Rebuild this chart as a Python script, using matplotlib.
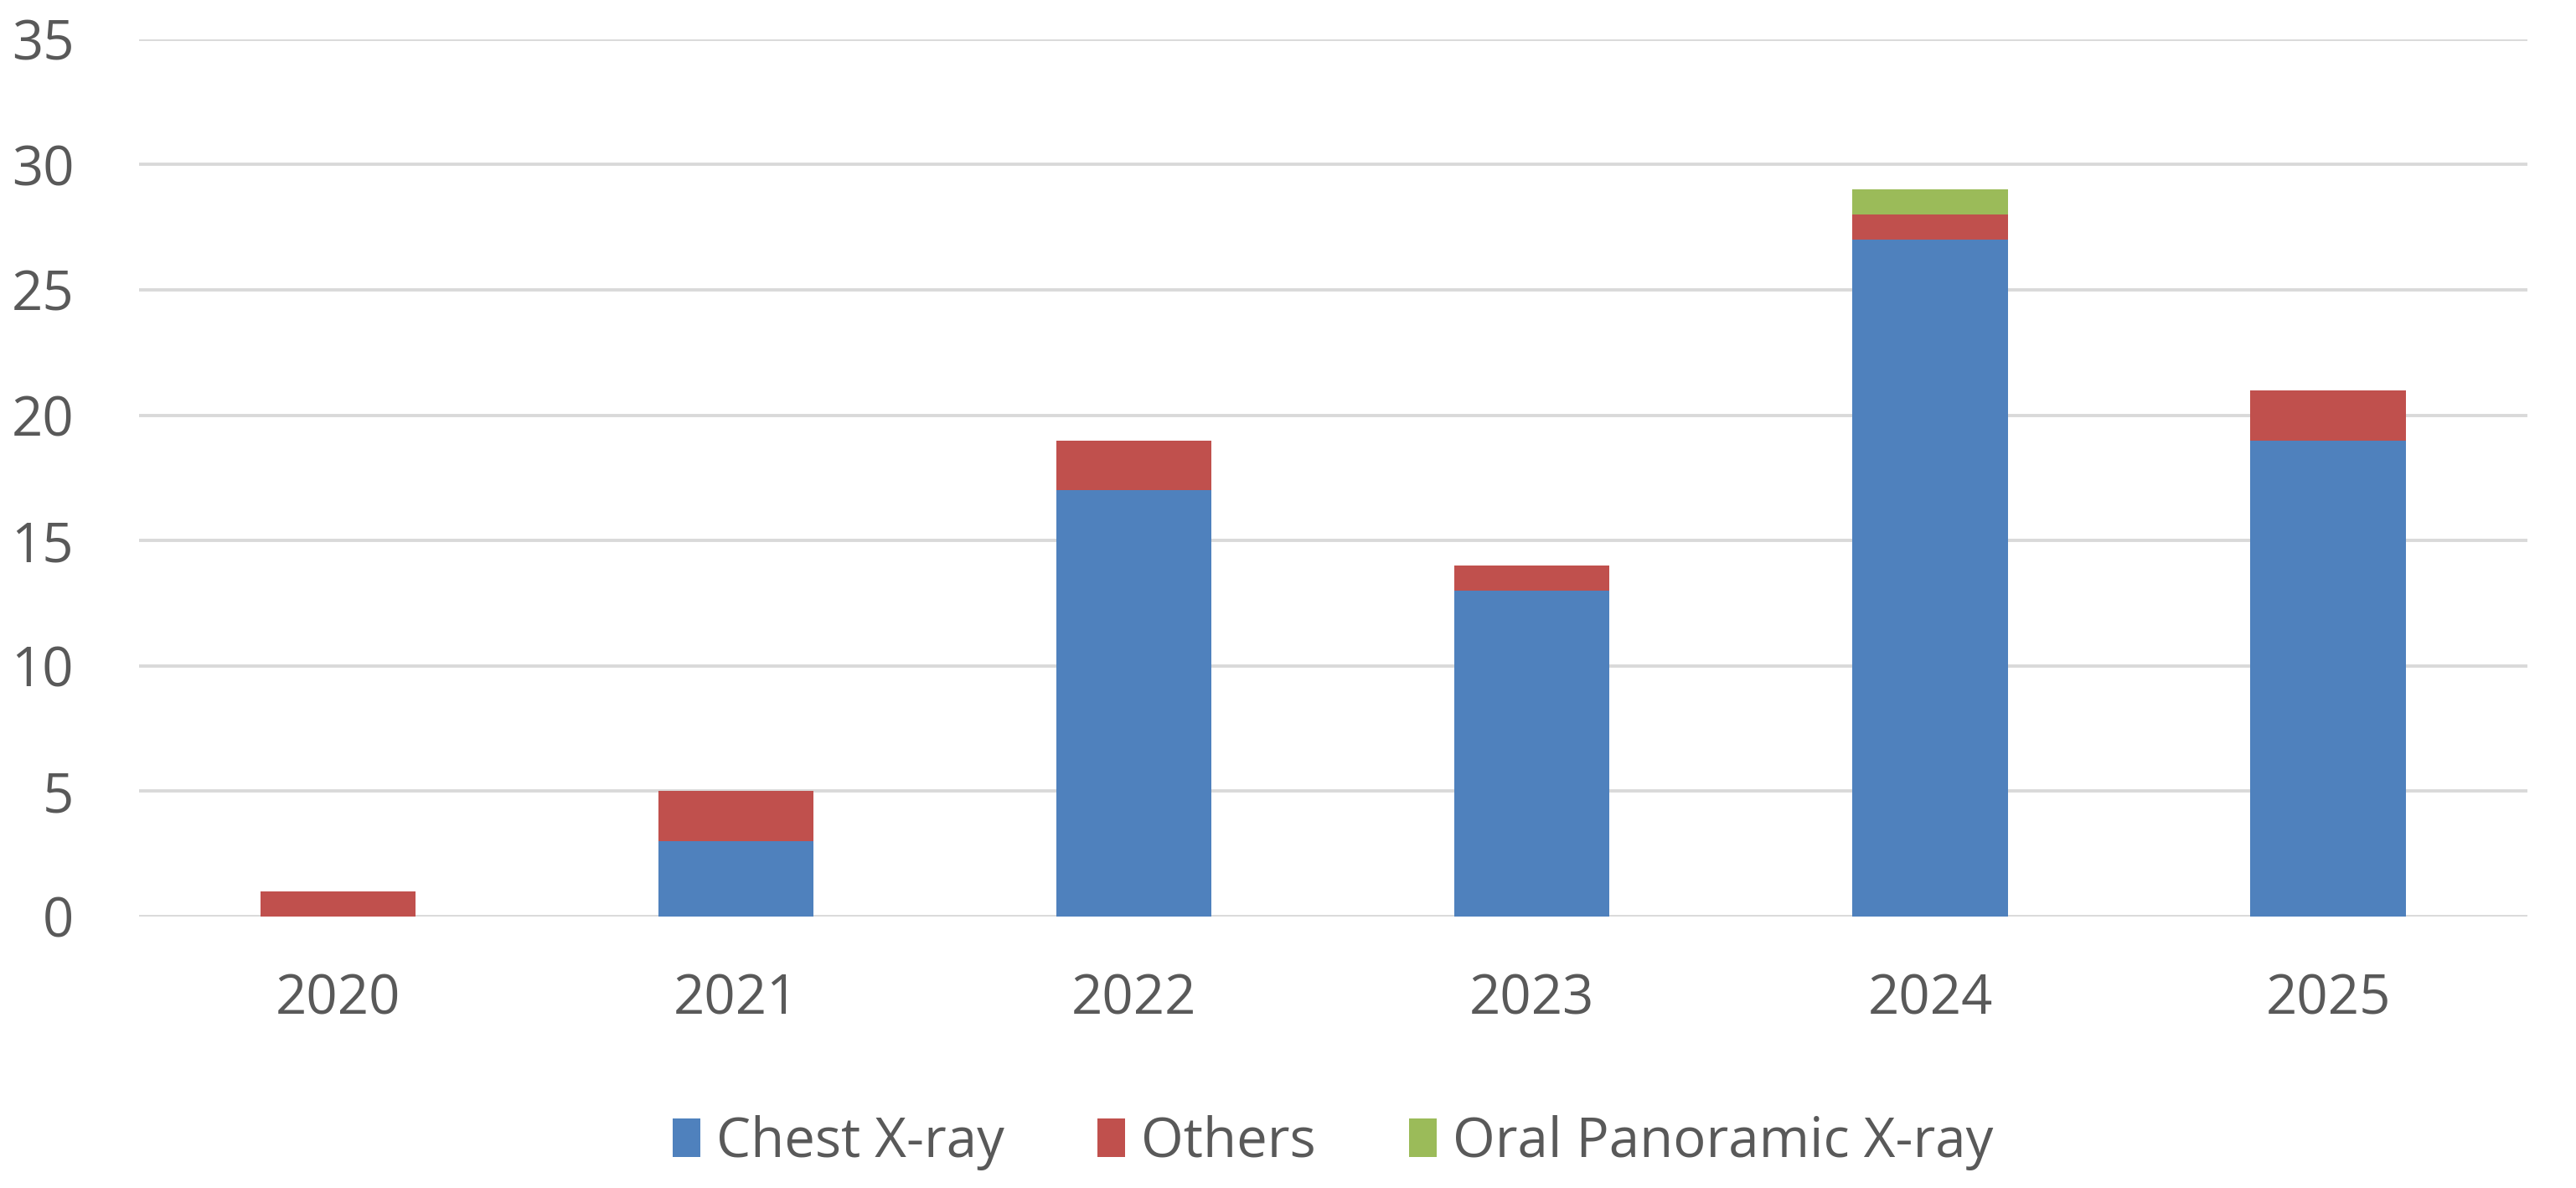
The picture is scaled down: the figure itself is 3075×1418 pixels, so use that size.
import numpy as np
import matplotlib
matplotlib.use("Agg")
import matplotlib.pyplot as plt

years = ["2020", "2021", "2022", "2023", "2024", "2025"]
chest = [0, 3, 17, 13, 27, 19]
others = [1, 2, 2, 1, 1, 2]
oral = [0, 0, 0, 0, 1, 0]

plt.rcParams['font.family'] = ['Open Sans', 'DejaVu Sans']

fig = plt.figure(figsize=(15.375, 7.09), dpi=200)
ax = fig.add_axes([0.054, 0.2285, 0.927, 0.7385])

x = np.arange(len(years))
w = 0.39
chest = np.array(chest)
others = np.array(others)
oral = np.array(oral)
ax.bar(x, chest, w, color='#4F81BD', label='Chest X-ray', zorder=3)
ax.bar(x, others, w, bottom=chest, color='#C0504D', label='Others', zorder=3)
ax.bar(x, oral, w, bottom=chest + others, color='#9BBB59', label='Oral Panoramic X-ray', zorder=3)

ax.set_xlim(-0.5, 5.5)
ax.set_ylim(0, 35)
ax.set_yticks(range(0, 36, 5))
ax.set_xticks(x)
ax.set_xticklabels(years)
ax.yaxis.grid(True, color='#d9d9d9', linewidth=1.4, zorder=0)
for s in ax.spines.values():
    s.set_visible(False)
ax.tick_params(length=0, labelsize=23.5, labelcolor='#595959')
ax.tick_params(axis='x', pad=24)
ax.tick_params(axis='y', pad=28)

leg = ax.legend(loc='upper center', bbox_to_anchor=(0.5, -0.17), ncol=3, frameon=False,
                fontsize=23.5, labelcolor='#595959', handlelength=0.5, handleheight=0.7,
                handletextpad=0.3, columnspacing=1.7)

fig.savefig('out.png', dpi=200)
